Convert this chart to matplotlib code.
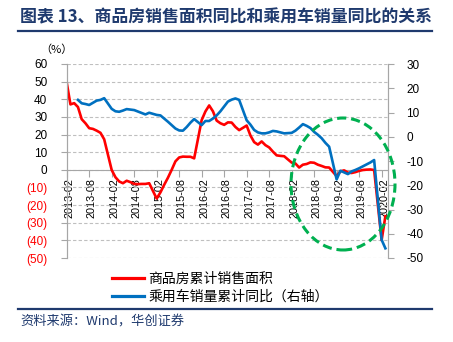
import matplotlib
matplotlib.use('Agg')
import matplotlib.pyplot as plt
import matplotlib.patches as mpatches
from matplotlib.lines import Line2D
from matplotlib.transforms import ScaledTranslation
import pandas as pd

plt.rcParams['font.family'] = ['Liberation Sans', 'Noto Sans CJK SC', 'DejaVu Sans']
CJK = ['Noto Sans CJK SC', 'DejaVu Sans']

title = '图表 13、商品房销售面积同比和乘用车销量同比的关系'
source = '资料来源：Wind，华创证券'
red_name = '商品房累计销售面积'
blue_name = '乘用车销量累计同比（右轴）'

# monthly, no January figures (Jan-Feb reported together)
red_start, red_end = '2013-02', '2020-03'
blue_start, blue_end = '2013-05', '2020-03'

red_values = [
    49.5, 37.1, 37.8, 35.6, 28.7, 26.4, 23.6, 23.2, 22.2, 21.0, 17.3,
    -0.1, -4.2, -6.6, -7.6, -6.2, -7.0, -8.0, -8.1, -8.0, -8.0, -7.6,
    -16.3, -12.8, -8.5, -4.5, 0.0, 4.8, 7.0, 7.5, 7.4, 7.4, 6.5,
    28.2, 33.1, 36.5, 33.2, 27.9, 26.4, 25.5, 26.9, 26.8, 24.3, 22.5,
    25.1, 19.5, 15.7, 14.3, 16.1, 14.0, 12.7, 10.3, 8.2, 7.9, 7.7,
    4.1, 3.6, 1.3, 2.9, 3.3, 4.2, 4.0, 2.9, 2.2, 1.4, 1.3,
    -3.6, -0.9, -0.3, -1.6, -1.8, -1.3, -0.6, -0.1, 0.1, 0.2, -0.1,
    -39.9, -26.3,
]
blue_values = [
    15.2, 13.8, 13.5, 13.1, 14.0, 14.9, 15.2, 15.9,
    11.5, 10.5, 10.3, 10.8, 11.4, 11.2, 11.0, 10.4, 9.8, 9.2, 9.9,
    9.0, 8.8, 7.5, 6.2, 4.8, 3.4, 2.6, 2.5, 4.0, 5.8, 7.3,
    4.8, 6.5, 6.5, 7.5, 8.8, 10.5, 12.5, 14.5, 15.3, 15.8, 15.2,
    6.8, 5.0, 2.8, 1.8, 1.4, 1.4, 1.8, 2.4, 2.2, 1.8, 1.4,
    1.6, 2.5, 3.8, 5.2, 4.5, 3.6, 2.0, 0.8, -0.6, -2.5, -4.1,
    -17.6, -14.0, -14.7, -15.4, -14.3, -13.7, -13.0, -12.2, -11.4, -10.6, -9.6,
    -42.5, -46.0,
]

left_ticks = list(range(-50, 61, 10))
right_ticks = list(range(-50, 31, 10))
x_tick_labels = ['%d-%s' % (y, m) for y in range(2013, 2021) for m in ('02', '08')][:15]

NAVY = '#1F3A6E'
RED = '#FF0000'
BLUE = '#0070C0'
GRID = '#BFBFBF'
SPINE = '#A6A6A6'


def month_pos(start, end):
    p = pd.period_range(start, end, freq='M')
    p = p[p.month != 1]
    base = pd.Period('2013-02', freq='M')
    return [(q - base).n for q in p]


red_x = month_pos(red_start, red_end)
blue_x = month_pos(blue_start, blue_end)

fig = plt.figure(figsize=(4.53, 3.42), dpi=100)
ax = fig.add_axes([66.7 / 453, 1 - 258 / 342, (388 - 66.7) / 453, 194 / 342])
ax2 = ax.twinx()

ax.plot(red_x, red_values, color=RED, lw=1.9, solid_joinstyle='round', zorder=3)
ax2.plot(blue_x, blue_values, color=BLUE, lw=1.9, solid_joinstyle='round', zorder=3)

ax.set_xlim(0, 85.7)
ax.set_ylim(-50, 60)
ax2.set_ylim(-50, 30)

ax.set_yticks(left_ticks)
ax.set_yticklabels([str(v) if v >= 0 else '(%d)' % -v for v in left_ticks])
for lbl, v in zip(ax.get_yticklabels(), left_ticks):
    lbl.set_color('black' if v >= 0 else RED)
ax2.set_yticks(right_ticks)
ax2.set_yticklabels([str(v) for v in right_ticks])

ax.yaxis.grid(True, color=GRID, lw=0.8, ls=(0, (3, 2)))
ax.set_axisbelow(True)

for a in (ax, ax2):
    a.spines['top'].set_visible(False)
    a.spines['left'].set_color(SPINE)
    a.spines['right'].set_color(SPINE)
ax2.spines['bottom'].set_visible(False)
ax.spines['bottom'].set_position(('data', 0))
ax.spines['bottom'].set_color(SPINE)

ax.tick_params(axis='y', length=4, width=0.8, color=SPINE, pad=10, labelsize=8.5)
ax2.tick_params(axis='y', length=4, width=0.8, color=SPINE, pad=9, labelsize=8.5)

ax.set_xticks(range(0, 85, 6))
ax.set_xticklabels(x_tick_labels, rotation=90, fontsize=7.8)
ax.tick_params(axis='x', length=5, width=0.8, color=SPINE, pad=1)
for lbl in ax.get_xticklabels():
    lbl.set_transform(lbl.get_transform() + ScaledTranslation(2.5 / 100, 0, fig.dpi_scale_trans))

# title and rules
fig.text(20 / 453, 1 - 17 / 342, title, family=CJK, fontsize=12.2, fontweight='bold',
         color=NAVY, ha='left', va='center')
fig.add_artist(Line2D([18 / 453, 432 / 453], [1 - 31 / 342] * 2, color=NAVY, lw=1.6))
fig.add_artist(Line2D([18 / 453, 432 / 453], [1 - 309 / 342] * 2, color=NAVY, lw=1.6))
fig.text(56 / 453, 1 - 50 / 342, '（%）', family=CJK, fontsize=8, ha='center', va='center')
fig.text(20 / 453, 1 - 322 / 342, source, family=CJK, fontsize=9.5, color=NAVY,
         ha='left', va='center', style='italic')

# legend
handles = [Line2D([], [], color=RED, lw=2.3), Line2D([], [], color=BLUE, lw=2.3)]
fig.legend(handles, [red_name, blue_name], loc='upper left',
           bbox_to_anchor=(112 / 453, 1 - 272 / 342), frameon=False,
           borderpad=0, borderaxespad=0, handlelength=2.3, handletextpad=0.3,
           labelspacing=0.25, prop={'family': CJK, 'size': 10})

# highlight ellipse
ell = mpatches.Ellipse((343 / 453, 1 - 184 / 342), 104 / 453, 132 / 342,
                       transform=fig.transFigure, fill=False, ec='#00B050',
                       lw=2.2, ls=(0, (3, 1.6)), zorder=10)
fig.add_artist(ell)

fig.savefig('out.png', dpi=100)
